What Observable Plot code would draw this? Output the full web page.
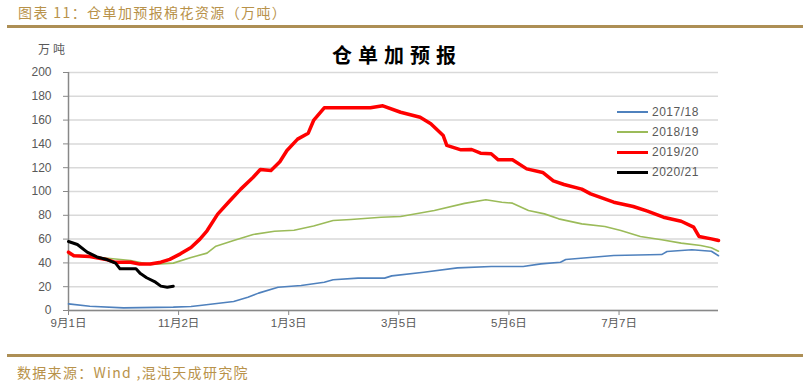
<!DOCTYPE html>
<html><head><meta charset="utf-8">
<script src="https://cdn.jsdelivr.net/npm/d3@7"></script>
<script src="https://cdn.jsdelivr.net/npm/@observablehq/plot@0.6"></script>
<style>
body{margin:0;background:#fff;width:803px;height:381px;overflow:hidden;position:relative;font-family:"Liberation Sans","Noto Sans CJK SC",sans-serif;}
#header{position:absolute;left:18px;top:2px;font-family:"Noto Sans CJK SC";font-size:14px;color:#b8924a;letter-spacing:1.4px;line-height:20px;white-space:nowrap}
#hline{position:absolute;left:7px;right:0;top:25px;height:3px;background:#ad8f55}
#chart{position:absolute;left:0;top:28px}
#title{position:absolute;left:280px;width:234px;text-align:center;top:43px;font-family:"Noto Sans CJK SC";font-weight:700;font-size:20px;letter-spacing:6px;line-height:24px;color:#000}
#unit{position:absolute;left:38px;top:41px;font-family:"Noto Sans CJK SC";font-size:12px;letter-spacing:3px;line-height:16px;color:#595959}
#legend{position:absolute;left:617px;top:102px}
.row{display:flex;align-items:center;height:20px;font-size:12px;color:#595959;letter-spacing:0.5px}
.sw{width:31px;margin-right:4px}
#fline{position:absolute;left:7px;right:0;top:354px;height:3px;background:#ad8f55}
#footer{position:absolute;left:17px;top:362px;font-family:"Noto Sans CJK SC";font-size:14px;color:#b8924a;letter-spacing:1.3px;line-height:20px;white-space:nowrap}
</style></head>
<body>
<div id="header">图表 11：仓单加预报棉花资源（万吨）</div>
<div id="hline"></div>
<div id="chart"></div>
<div id="title">仓单加预报</div>
<div id="unit">万吨</div>
<div id="legend"></div>
<div id="fline"></div>
<div id="footer">数据来源：Wind ,混沌天成研究院</div>
<script>
// x = days since 9月1日
const tickDays = [0, 62, 124, 186, 248, 310];
const tickLabels = ["9月1日", "11月2日", "1月3日", "3月5日", "5月6日", "7月7日"];
const yTicks = [0, 20, 40, 60, 80, 100, 120, 140, 160, 180, 200];

const seriesNames = ["2017/18", "2018/19", "2019/20", "2020/21"];
const seriesColors = ["#4f81bd", "#9bbb59", "#ff0000", "#000000"];
const seriesWidths = [1.6, 1.6, 3.5, 3];

const blueDays = [0,12,31,59,69,74,93,101,107,118,131,144,149,163,178,182,200,219,238,256,266,277,280,307,334,337,351,362,366];
const blueVals = [5.6,3.6,2.2,2.8,3.4,4.2,7.6,11.2,14.6,19.6,21,23.8,25.8,27.2,27.2,29.1,32.2,35.8,37,37,39.2,40.6,42.9,46.2,47,49.6,51,49.8,46];

const greenDays = [0,15,35,46,59,69,78,83,93,104,116,127,138,149,159,176,187,206,223,235,244,250,259,268,276,289,302,311,322,334,345,356,362,366];
const greenVals = [47,45,42,38.7,39.8,44.5,48.2,54,58.8,63.9,66.6,67.5,71,75.6,76.5,78.4,79,84,90,93,91,90.2,84,81.2,77,72.8,70.6,67.2,62.2,59.4,56.6,54.6,52.7,49.8];

const redDays = [0,3,12,22,26,35,40,46,52,57,63,69,74,78,84,91,97,104,108,114,119,123,129,135,138,141,144,170,177,187,198,204,211,213,221,227,232,238,242,250,258,267,273,279,289,294,307,318,326,335,345,352,355,362,366];
const redVals = [49,46,45.4,42.6,40.6,40.6,39,39,40.6,43,47.6,53,60,67,81,92.4,102,112,118.5,117.6,125,134.5,144,149,159.7,165,170.3,170.3,172,166.6,162.4,157,147,138.7,135,135.3,132.2,131.7,126.6,126.6,119,116,109,105.9,102,98,91,87.4,83.5,78.4,75,70,62.2,60.2,58.8];

const blackDays = [0,5,10.5,16,22,26.5,29,38,40.5,44,49,52,55.6,59];
const blackVals = [58,55.5,49,45,42.6,39.8,35,35,31,27.5,23.8,20.5,19.6,20.4];

const allDays = [blueDays, greenDays, redDays, blackDays];
const allVals = [blueVals, greenVals, redVals, blackVals];

const lineMarks = allDays.map((days, i) =>
  Plot.line(days.map((d, j) => ({d, v: allVals[i][j]})), {
    x: "d", y: "v", stroke: seriesColors[i], strokeWidth: seriesWidths[i], strokeLinejoin: "round"
  })
);

const chart = Plot.plot({
  width: 803, height: 322,
  marginLeft: 68, marginRight: 85, marginTop: 44, marginBottom: 40,
  style: {fontFamily: '"Liberation Sans","Noto Sans CJK SC",sans-serif', fontSize: "12px", color: "#595959", background: "transparent"},
  x: {domain: [0, 366], label: null},
  y: {domain: [0, 200], label: null},
  marks: [
    Plot.gridY(yTicks, {stroke: "#d9d9d9", strokeOpacity: 1, strokeWidth: 1.5}),
    Plot.axisY(yTicks, {tickSize: 5, tickPadding: 12, stroke: "#888", fontSize: 12, label: null}),
    Plot.axisX(tickDays, {tickSize: 5, tickPadding: 3, stroke: "#888", fontSize: 11.5, label: null, tickFormat: d => tickLabels[tickDays.indexOf(d)]}),
    Plot.ruleX([0], {stroke: "#888", strokeWidth: 1.5}),
    ...lineMarks,
    Plot.ruleY([0], {stroke: "#888", strokeWidth: 1.5})
  ]
});
document.getElementById("chart").appendChild(chart);

const legend = document.getElementById("legend");
seriesNames.forEach((name, i) => {
  const row = document.createElement("div");
  row.className = "row";
  const sw = document.createElement("div");
  sw.className = "sw";
  sw.style.height = (i < 2 ? 2 : 3) + "px";
  sw.style.background = seriesColors[i];
  const t = document.createElement("span");
  t.textContent = name;
  row.appendChild(sw); row.appendChild(t);
  legend.appendChild(row);
});
</script>
</body></html>
